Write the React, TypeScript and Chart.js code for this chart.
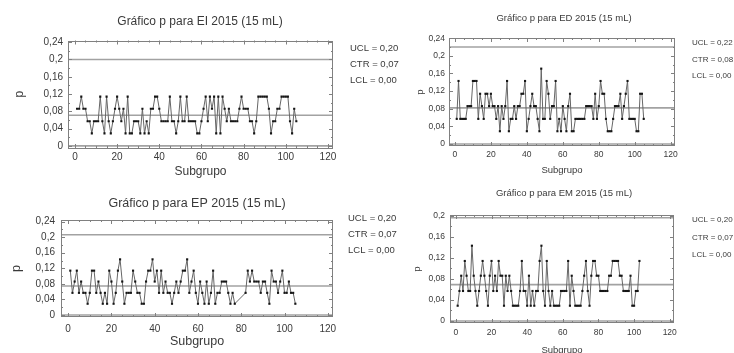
import { useEffect, useRef } from "react";
import { Chart, registerables } from "chart.js";

Chart.register(...registerables);

// ---------- data ----------
const seriesEI = [
  0.086, 0.086, 0.114, 0.086, 0.086, 0.057, 0.057, 0.029, 0.057, 0.057,
  0.057, 0.114, 0.057, 0.029, 0.114, 0.057, 0.029, 0.057, 0.086, 0.114,
  0.086, 0.057, 0.086, 0.029, 0.114, 0.029, 0.029, 0.057, 0.057, 0.057,
  0.029, 0.086, 0.029, 0.057, 0.029, 0.086, 0.086, 0.114, 0.114, 0.086,
  0.057, 0.057, 0.057, 0.057, 0.114, 0.057, 0.057, 0.029, 0.057, 0.114,
  0.057, 0.057, 0.114, 0.057, 0.057, 0.057, 0.057, 0.029, 0.029, 0.057,
  0.086, 0.114, 0.057, 0.114, 0.086, 0.114, 0.029, 0.114, 0.029, 0.114,
  0.086, 0.057, 0.086, 0.057, 0.057, 0.057, 0.057, 0.086, 0.114, 0.086,
  0.086, 0.086, 0.057, 0.057, 0.029, 0.057, 0.114, 0.114, 0.114, 0.114,
  0.114, 0.086, 0.029, 0.057, 0.057, 0.086, 0.086, 0.114, 0.114, 0.114,
  0.114, 0.057, 0.029, 0.086, 0.057,
];

const seriesED = [
  0.057, 0.143, 0.057, 0.057, 0.057, 0.057, 0.086, 0.086, 0.086, 0.143,
  0.143, 0.143, 0.057, 0.114, 0.086, 0.057, 0.114, 0.114, 0.086, 0.114,
  0.086, 0.086, 0.057, 0.086, 0.029, 0.086, 0.057, 0.086, 0.143, 0.029,
  0.057, 0.057, 0.086, 0.057, 0.086, 0.086, 0.114, 0.114, 0.143, 0.029,
  0.057, 0.086, 0.114, 0.086, 0.086, 0.057, 0.029, 0.171, 0.057, 0.057,
  0.143, 0.114, 0.057, 0.086, 0.086, 0.143, 0.029, 0.057, 0.029, 0.086,
  0.057, 0.029, 0.086, 0.114, 0.029, 0.029, 0.057, 0.057, 0.057, 0.057,
  0.057, 0.057, 0.086, 0.086, 0.086, 0.086, 0.057, 0.114, 0.057, 0.086,
  0.143, 0.114, 0.114, 0.057, 0.029, 0.029, 0.029, 0.057, 0.086, 0.086,
  0.086, 0.114, 0.057, 0.086, 0.114, 0.143, 0.057, 0.057, 0.057, 0.057,
  0.029, 0.029, 0.114, 0.114, 0.057,
];

const seriesEP = [
  0.114, 0.057, 0.086, 0.114, 0.057, 0.086, 0.057, 0.057, 0.029, 0.057,
  0.114, 0.114, 0.057, 0.086, 0.057, 0.029, 0.057, 0.029, 0.114, 0.086,
  0.029, 0.057, 0.114, 0.143, 0.086, 0.029, 0.057, 0.057, 0.057, 0.114,
  0.086, 0.057, 0.057, 0.029, 0.029, 0.086, 0.114, 0.114, 0.143, 0.086,
  0.114, 0.057, 0.114, 0.057, 0.086, 0.057, 0.057, 0.029, 0.057, 0.086,
  0.057, 0.086, 0.114, 0.114, 0.143, 0.057, 0.086, 0.114, 0.057, 0.029,
  0.086, 0.057, 0.029, 0.086, 0.029, 0.057, 0.114, 0.029, 0.057, 0.057,
  0.086, 0.086, 0.086, 0.057, 0.029, 0.057, 0.029, null, null, null,
  null, 0.057, 0.114, 0.086, 0.114, 0.086, 0.086, 0.086, 0.057, 0.086,
  0.086, 0.057, 0.029, 0.114, 0.086, 0.086, 0.057, 0.086, 0.114, 0.057,
  0.057, 0.086, 0.057, 0.057, 0.029,
];

const seriesEM = [
  0.029, 0.057, 0.086, 0.057, 0.114, 0.086, 0.057, 0.057, 0.143, 0.086,
  0.057, 0.029, 0.057, 0.086, 0.114, 0.086, 0.057, 0.029, 0.086, 0.114,
  0.057, 0.086, 0.057, 0.114, 0.086, 0.086, 0.029, 0.086, 0.057, 0.086,
  0.057, 0.029, 0.029, 0.029, 0.029, 0.057, 0.114, 0.057, 0.057, 0.029,
  0.086, 0.029, 0.057, 0.029, 0.057, 0.057, 0.114, 0.143, 0.057, 0.029,
  0.114, 0.057, 0.029, 0.057, 0.029, 0.029, 0.029, 0.029, 0.057, 0.057,
  0.057, 0.057, 0.114, 0.029, 0.086, 0.057, 0.029, 0.029, 0.029, 0.029,
  0.057, 0.086, 0.114, 0.057, 0.029, 0.086, 0.114, 0.114, 0.086, 0.086,
  0.057, 0.057, 0.057, 0.057, 0.057, 0.086, 0.086, 0.114, 0.114, 0.114,
  0.114, 0.086, 0.086, 0.057, 0.057, 0.057, 0.057, 0.086, 0.029, 0.029,
  0.057, 0.057, 0.114,
];

// control limits [UCL, CTR, LCL] as drawn
const limitsEI = [0.2, 0.071, 0];
const limitsED = [0.22, 0.082, 0];
const limitsEP = [0.206, 0.0745, 0];
const limitsEM = [0.196, 0.069, 0];

const titleEI = "Gráfico p para EI 2015 (15 mL)";
const titleED = "Gráfico p para ED 2015 (15 mL)";
const titleEP = "Gráfico p para EP 2015 (15 mL)";
const titleEM = "Gráfico p para EM 2015 (15 mL)";

const statsEI = ["UCL = 0,20", "CTR = 0,07", "LCL = 0,00"];
const statsED = ["UCL = 0,22", "CTR = 0,08", "LCL = 0,00"];
const statsEP = ["UCL = 0,20", "CTR = 0,07", "LCL = 0,00"];
const statsEM = ["UCL = 0,20", "CTR = 0,07", "LCL = 0,00"];

const xTicks = [0, 20, 40, 60, 80, 100, 120];
const xTickLabels = ["0", "20", "40", "60", "80", "100", "120"];
const yTicks24 = [0, 0.04, 0.08, 0.12, 0.16, 0.2, 0.24];
const yTickLabels24 = ["0", "0,04", "0,08", "0,12", "0,16", "0,2", "0,24"];
const yTicks20 = [0, 0.04, 0.08, 0.12, 0.16, 0.2];
const yTickLabels20 = ["0", "0,04", "0,08", "0,12", "0,16", "0,2"];

const xAxisTitle = "Subgrupo";
const yAxisTitle = "p";

// ---------- layout (positions / styles only) ----------
type Panel = {
  series: (number | null)[];
  limits: number[];
  title: string;
  stats: string[];
  yTicks: number[];
  yLabels: string[];
  left: number; top: number; W: number; H: number;
  L: number; R: number; T: number; B: number;
  xMin: number; xMax: number; yMin: number; yMax: number;
  titleX: number; titleY: number; titleSize: number;
  tickSize: number; axisSize: number; xTickPad: number; yTickPad: number;
  subY: number; pX: number;
  statsX: number; statsY: number[]; statsSize: number;
};

const panels: Panel[] = [
  {
    series: seriesEI, limits: limitsEI, title: titleEI, stats: statsEI,
    yTicks: yTicks24, yLabels: yTickLabels24,
    left: 0, top: 0, W: 430, H: 185, L: 68, R: 333, T: 40.5, B: 148,
    xMin: -3.3, xMax: 122.4, yMin: -0.005, yMax: 0.244,
    titleX: 200, titleY: 22, titleSize: 12, tickSize: 10, axisSize: 12,
    xTickPad: 3, yTickPad: 5, subY: 172, pX: 20,
    statsX: 350, statsY: [48, 64, 80], statsSize: 9.5,
  },
  {
    series: seriesED, limits: limitsED, title: titleED, stats: statsED,
    yTicks: yTicks24, yLabels: yTickLabels24,
    left: 367, top: 0, W: 367, H: 185, L: 82, R: 308, T: 38, B: 146,
    xMin: -3.3, xMax: 122.4, yMin: -0.0045, yMax: 0.2405,
    titleX: 197, titleY: 18, titleSize: 9.5, tickSize: 8.5, axisSize: 9.5,
    xTickPad: 4, yTickPad: 4, subY: 170, pX: 53,
    statsX: 325, statsY: [43, 60, 76], statsSize: 8,
  },
  {
    series: seriesEP, limits: limitsEP, title: titleEP, stats: statsEP,
    yTicks: yTicks24, yLabels: yTickLabels24,
    left: 0, top: 176, W: 430, H: 177, L: 61, R: 333, T: 44, B: 141,
    xMin: -3.3, xMax: 122.4, yMin: -0.005, yMax: 0.244,
    titleX: 197, titleY: 28, titleSize: 12.5, tickSize: 10, axisSize: 12.5,
    xTickPad: 6, yTickPad: 6, subY: 166, pX: 17,
    statsX: 348, statsY: [42, 58, 74], statsSize: 9.5,
  },
  {
    series: seriesEM, limits: limitsEM, title: titleEM, stats: statsEM,
    yTicks: yTicks20, yLabels: yTickLabels20,
    left: 367, top: 176, W: 367, H: 177, L: 83, R: 307, T: 39, B: 147,
    xMin: -3.3, xMax: 122.4, yMin: -0.0038, yMax: 0.2013,
    titleX: 197, titleY: 17, titleSize: 9.5, tickSize: 8.5, axisSize: 9.5,
    xTickPad: 5, yTickPad: 5, subY: 174, pX: 50,
    statsX: 325, statsY: [44, 62, 79], statsSize: 8,
  },
];

const FONT = "'Liberation Sans', Arial, sans-serif";
const TEXT = "#3a3a3a";

function makeChart(canvas: HTMLCanvasElement, p: Panel) {
  const frame = {
    id: "frameAndText",
    afterDraw(chart: any) {
      const { ctx, chartArea: a, scales } = chart;
      const xs = scales.x;
      const ys = scales.y;
      ctx.save();
      ctx.strokeStyle = "#808080";
      ctx.lineWidth = 1;
      ctx.strokeRect(Math.round(a.left) + 0.5, Math.round(a.top) + 0.5,
        Math.round(a.right - a.left) - 1, Math.round(a.bottom - a.top) - 1);
      ctx.beginPath();
      for (let v = 0; v <= 120; v += 5) {
        const px = Math.round(xs.getPixelForValue(v)) + 0.5;
        const len = v % 20 === 0 ? 4 : 2;
        ctx.moveTo(px, a.bottom); ctx.lineTo(px, a.bottom - len);
        ctx.moveTo(px, a.top); ctx.lineTo(px, a.top + len);
      }
      const top = p.yTicks[p.yTicks.length - 1];
      for (let i = 0; i <= Math.round(top / 0.02); i++) {
        const v = i * 0.02;
        const py = Math.round(ys.getPixelForValue(v)) + 0.5;
        const len = i % 2 === 0 ? 4 : 2;
        ctx.moveTo(a.left, py); ctx.lineTo(a.left + len, py);
        ctx.moveTo(a.right, py); ctx.lineTo(a.right - len, py);
      }
      ctx.stroke();

      ctx.fillStyle = TEXT;
      ctx.textAlign = "center";
      ctx.textBaseline = "middle";
      ctx.font = `${p.titleSize}px ${FONT}`;
      ctx.fillText(p.title, p.titleX, p.titleY);

      ctx.textAlign = "left";
      ctx.font = `${p.statsSize}px ${FONT}`;
      p.stats.forEach((s, i) => ctx.fillText(s, p.statsX, p.statsY[i]));
      ctx.restore();
    },
  };

  const lineDs = (y: number) => ({
    data: [{ x: p.xMin, y }, { x: p.xMax, y }],
    borderColor: "#a2a2a2",
    borderWidth: 1.6,
    pointRadius: 0,
    order: 2,
  });

  const axLine = p.axisSize * 1.2;

  return new Chart(canvas, {
    type: "line",
    data: {
      datasets: [
        {
          data: p.series.map((v, i) => ({ x: i + 1, y: v })),
          borderColor: "#666666",
          borderWidth: 1,
          pointStyle: "rect",
          pointRadius: 1.5,
          pointBackgroundColor: "#151515",
          pointBorderWidth: 0,
          spanGaps: true,
          order: 0,
        },
        lineDs(p.limits[0]),
        lineDs(p.limits[1]),
        lineDs(p.limits[2]),
      ] as any,
    },
    options: {
      animation: false,
      responsive: false,
      events: [],
      layout: { padding: { left: 0, right: p.W - p.R, top: p.T, bottom: 0 } },
      plugins: { legend: { display: false }, tooltip: { enabled: false }, title: { display: false } },
      scales: {
        x: {
          type: "linear",
          min: p.xMin,
          max: p.xMax,
          grid: { display: false, drawTicks: false },
          border: { display: false },
          afterBuildTicks: (s: any) => { s.ticks = xTicks.map((v) => ({ value: v })); },
          afterFit: (s: any) => { s.height = p.H - p.B; },
          ticks: {
            autoSkip: false,
            maxRotation: 0,
            padding: p.xTickPad,
            color: TEXT,
            font: { family: FONT, size: p.tickSize },
            callback: (v: any) => xTickLabels[xTicks.indexOf(Number(v))] ?? "",
          },
          title: {
            display: true,
            text: xAxisTitle,
            color: TEXT,
            font: { family: FONT, size: p.axisSize },
            padding: { top: 0, bottom: p.H - p.subY - axLine / 2 },
          },
        },
        y: {
          type: "linear",
          min: p.yMin,
          max: p.yMax,
          grid: { display: false, drawTicks: false },
          border: { display: false },
          afterBuildTicks: (s: any) => { s.ticks = p.yTicks.map((v) => ({ value: v })); },
          afterFit: (s: any) => { s.width = p.L; },
          ticks: {
            autoSkip: false,
            padding: p.yTickPad,
            color: TEXT,
            font: { family: FONT, size: p.tickSize },
            callback: (v: any) => {
              const i = p.yTicks.findIndex((t) => Math.abs(t - Number(v)) < 1e-9);
              return i >= 0 ? p.yLabels[i] : "";
            },
          },
          title: {
            display: true,
            text: yAxisTitle,
            color: TEXT,
            font: { family: FONT, size: p.axisSize },
            padding: { top: p.pX - axLine / 2, bottom: 0 },
          },
        },
      },
    } as any,
    plugins: [frame],
  });
}

function PanelChart({ p }: { p: Panel }) {
  const ref = useRef<HTMLCanvasElement | null>(null);
  useEffect(() => {
    if (!ref.current) return;
    const chart = makeChart(ref.current, p);
    return () => chart.destroy();
  }, [p]);
  return (
    <canvas
      ref={ref}
      width={p.W}
      height={p.H}
      style={{ position: "absolute", left: p.left, top: p.top, width: p.W, height: p.H }}
    />
  );
}

export default function App() {
  return (
    <div style={{ position: "fixed", left: 0, top: 0, width: 734, height: 353, background: "#fff", overflow: "hidden" }}>
      {panels.map((p, i) => (
        <PanelChart key={i} p={p} />
      ))}
    </div>
  );
}
